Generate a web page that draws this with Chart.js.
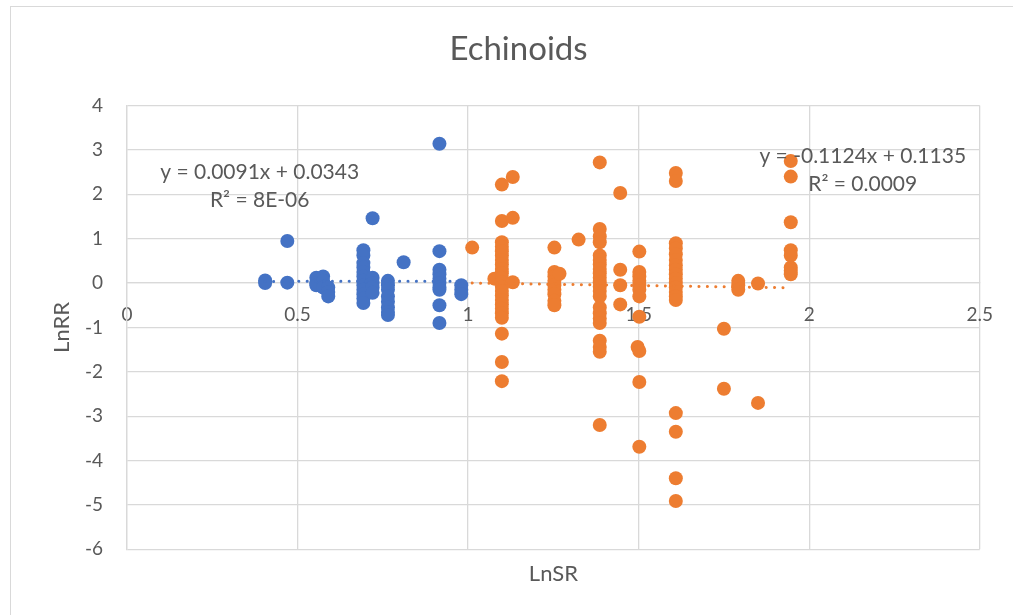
<!DOCTYPE html>
<html>
<head>
<meta charset="utf-8">
<title>Echinoids</title>
<script src="https://cdn.jsdelivr.net/npm/chart.js@4/dist/chart.umd.min.js"></script>
<style>
  html, body { margin: 0; padding: 0; background: #ffffff; overflow: hidden; }
  #frame { position: absolute; left: 10px; top: 6px; width: 1100px; height: 700px; border: 1px solid #d9d9d9; box-sizing: border-box; }
  #chart { position: absolute; left: 0; top: 0; }
</style>
</head>
<body>
<div id="frame"></div>
<canvas id="chart" width="1013" height="615"></canvas>
<script>
// LnSR / LnRR pairs, first group (blue)
const blueX = [
  0.405, 0.405,
  0.470, 0.470,
  0.555, 0.555, 0.555,
  0.575, 0.575, 0.575,
  0.590, 0.590, 0.590,
  0.693, 0.693, 0.693, 0.693, 0.693, 0.693, 0.693, 0.693, 0.693, 0.693, 0.693, 0.693,
  0.720, 0.720, 0.720, 0.720, 0.720,
  0.765, 0.765, 0.765, 0.765, 0.765, 0.765, 0.765, 0.765,
  0.811,
  0.916, 0.916, 0.916, 0.916, 0.916, 0.916, 0.916, 0.916, 0.916, 0.916,
  0.980, 0.980, 0.980
];
const blueY = [
  0.06, 0.00,
  0.95, 0.01,
  0.12, 0.00, -0.05,
  0.15, 0.05, -0.10,
  -0.10, -0.20, -0.30,
  0.74, 0.62, 0.45, 0.35, 0.25, 0.15, 0.05, -0.05, -0.15, -0.25, -0.35, -0.45,
  1.46, 0.12, 0.00, -0.10, -0.22,
  0.05, -0.05, -0.15, -0.30, -0.42, -0.55, -0.65, -0.72,
  0.47,
  3.14, 0.72, 0.30, 0.20, 0.10, 0.00, -0.10, -0.15, -0.50, -0.90,
  -0.05, -0.15, -0.25
];

// LnSR / LnRR pairs, second group (orange)
const orangeX = [
  1.012,
  1.077,
  1.099, 1.099, 1.099, 1.099, 1.099, 1.099, 1.099, 1.099, 1.099, 1.099, 1.099, 1.099,
  1.099, 1.099, 1.099, 1.099, 1.099, 1.099, 1.099, 1.099, 1.099, 1.099, 1.099,
  1.131, 1.131, 1.131,
  1.253, 1.253, 1.253, 1.253, 1.253, 1.253, 1.253, 1.253, 1.253,
  1.268,
  1.324,
  1.386, 1.386, 1.386, 1.386, 1.386, 1.386, 1.386, 1.386, 1.386, 1.386, 1.386,
  1.386, 1.386, 1.386, 1.386, 1.386, 1.386, 1.386, 1.386, 1.386, 1.386, 1.386,
  1.446, 1.446, 1.446, 1.446,
  1.502, 1.502, 1.502, 1.502, 1.502, 1.502, 1.502, 1.502, 1.497, 1.502, 1.502, 1.502,
  1.609, 1.609, 1.609, 1.609, 1.609, 1.609, 1.609, 1.609, 1.609, 1.609,
  1.609, 1.609, 1.609, 1.609, 1.609, 1.609, 1.609, 1.609, 1.609,
  1.750, 1.750,
  1.792, 1.792, 1.792,
  1.850, 1.850,
  1.946, 1.946, 1.946, 1.946, 1.946, 1.946, 1.946, 1.946
];
const orangeY = [
  0.80,
  0.10,
  2.22, 1.40, 0.92, 0.82, 0.72, 0.62, 0.52, 0.42, 0.32, 0.22, 0.12, 0.02,
  -0.08, -0.18, -0.28, -0.38, -0.48, -0.58, -0.68, -0.78, -1.14, -1.78, -2.21,
  2.39, 1.47, 0.02,
  0.80, 0.25, 0.15, 0.05, -0.05, -0.15, -0.25, -0.40, -0.50,
  0.21,
  0.98,
  2.72, 1.22, 1.05, 0.92, 0.62, 0.52, 0.42, 0.32, 0.22, 0.12, 0.02,
  -0.08, -0.18, -0.30, -0.55, -0.68, -0.80, -0.90, -1.30, -1.44, -1.55, -3.20,
  2.03, 0.30, -0.05, -0.48,
  0.71, 0.25, 0.15, 0.05, -0.05, -0.15, -0.30, -0.76, -1.44, -1.53, -2.23, -3.69,
  2.48, 2.30, 0.90, 0.78, 0.65, 0.52, 0.40, 0.30, 0.20, 0.10,
  0.00, -0.10, -0.20, -0.30, -0.38, -2.93, -3.35, -4.40, -4.91,
  -1.03, -2.38,
  0.05, -0.05, -0.15,
  -0.01, -2.70,
  2.75, 2.40, 1.37, 0.74, 0.62, 0.35, 0.28, 0.20
];

// Linear trend lines as printed on the chart
const blueSlope = 0.0091, blueIntercept = 0.0343;
const orangeSlope = -0.1124, orangeIntercept = 0.1135;
const blueEquation = ['y = 0.0091x + 0.0343', 'R² = 8E-06'];
const orangeEquation = ['y = -0.1124x + 0.1135', 'R² = 0.0009'];

// Axis ranges and tick steps
const xMin = 0, xMax = 2.5, xStep = 0.5;
const yMin = -6, yMax = 4, yStep = 1;

const BLUE = '#4472C4';
const ORANGE = '#ED7D31';
const TEXT = '#595959';
const GRID = '#d9d9d9';
const FONT = 'Lato, "Open Sans", sans-serif';

function toPoints(xs, ys) {
  return xs.map((x, i) => ({ x: x, y: ys[i] }));
}
function trendPoints(xs, slope, intercept) {
  const lo = Math.min(...xs), hi = Math.max(...xs);
  return [{ x: lo, y: slope * lo + intercept }, { x: hi, y: slope * hi + intercept }];
}
// General number format: 1 rather than 1.0
function plainNumber(value) {
  return String(Math.round(value * 100) / 100);
}

// Equation labels, anchored in data units
const equationLabels = [
  { lines: blueEquation, x: 0.389, y: 2.5 },
  { lines: orangeEquation, x: 2.157, y: 2.85 }
];

const equationPlugin = {
  id: 'equationText',
  afterDatasetsDraw(chart) {
    const { ctx, scales } = chart;
    ctx.save();
    ctx.fillStyle = TEXT;
    ctx.font = '21px ' + FONT;
    ctx.textAlign = 'center';
    ctx.textBaseline = 'middle';
    equationLabels.forEach(lbl => {
      const px = scales.x.getPixelForValue(lbl.x);
      const py = scales.y.getPixelForValue(lbl.y);
      lbl.lines.forEach((t, i) => ctx.fillText(t, px, py + i * 28));
    });
    ctx.restore();
  }
};

new Chart(document.getElementById('chart'), {
  type: 'scatter',
  data: {
    datasets: [
      {
        label: 'Linear (blue)',
        data: trendPoints(blueX, blueSlope, blueIntercept),
        showLine: true, pointRadius: 0, borderColor: BLUE, borderWidth: 3,
        borderDash: [0.1, 8.3], borderCapStyle: 'round', order: 0
      },
      {
        label: 'Linear (orange)',
        data: trendPoints(orangeX, orangeSlope, orangeIntercept),
        showLine: true, pointRadius: 0, borderColor: ORANGE, borderWidth: 3,
        borderDash: [0.1, 8.3], borderCapStyle: 'round', order: 0
      },
      {
        label: 'Series1',
        data: toPoints(blueX, blueY),
        backgroundColor: BLUE, borderWidth: 0, pointRadius: 7, order: 2
      },
      {
        label: 'Series2',
        data: toPoints(orangeX, orangeY),
        backgroundColor: ORANGE, borderWidth: 0, pointRadius: 7, order: 1
      }
    ]
  },
  options: {
    responsive: false,
    animation: false,
    events: [],
    layout: { padding: { left: 56, right: 32, top: 0, bottom: 27.8 } },
    plugins: {
      legend: { display: false },
      tooltip: { enabled: false },
      title: {
        display: true,
        text: 'Echinoids',
        color: TEXT,
        font: { family: FONT, size: 33, weight: 'normal', lineHeight: 1.2 },
        padding: { top: 30, bottom: 36 }
      },
      subtitle: {
        display: true,
        position: 'bottom',
        fullSize: false,
        text: 'LnSR',
        color: TEXT,
        font: { family: FONT, size: 22, weight: 'normal', lineHeight: 1.2 },
        padding: { top: 11.5, bottom: 0 }
      }
    },
    scales: {
      x: {
        type: 'linear',
        position: { y: 0 },
        min: xMin, max: xMax,
        afterFit(scale) { scale.height = 0; },
        ticks: {
          stepSize: xStep, color: TEXT, padding: 20,
          font: { family: FONT, size: 19 }, maxRotation: 0,
          callback: plainNumber
        },
        grid: { color: GRID, lineWidth: 1.3, drawTicks: false },
        border: { color: GRID, width: 1.3 }
      },
      y: {
        type: 'linear',
        position: 'left',
        min: yMin, max: yMax,
        afterFit(scale) { scale.width = 71; },
        ticks: {
          stepSize: yStep, color: TEXT, padding: 24,
          font: { family: FONT, size: 19 },
          callback: plainNumber
        },
        grid: { color: GRID, lineWidth: 1.3, drawTicks: false },
        border: { color: GRID, width: 1.3 },
        title: {
          display: true,
          text: 'LnRR',
          color: TEXT,
          font: { family: FONT, size: 22, lineHeight: 0.5 },
          padding: { top: 0.5, bottom: 0 }
        }
      }
    }
  },
  plugins: [equationPlugin]
});
</script>
</body>
</html>
